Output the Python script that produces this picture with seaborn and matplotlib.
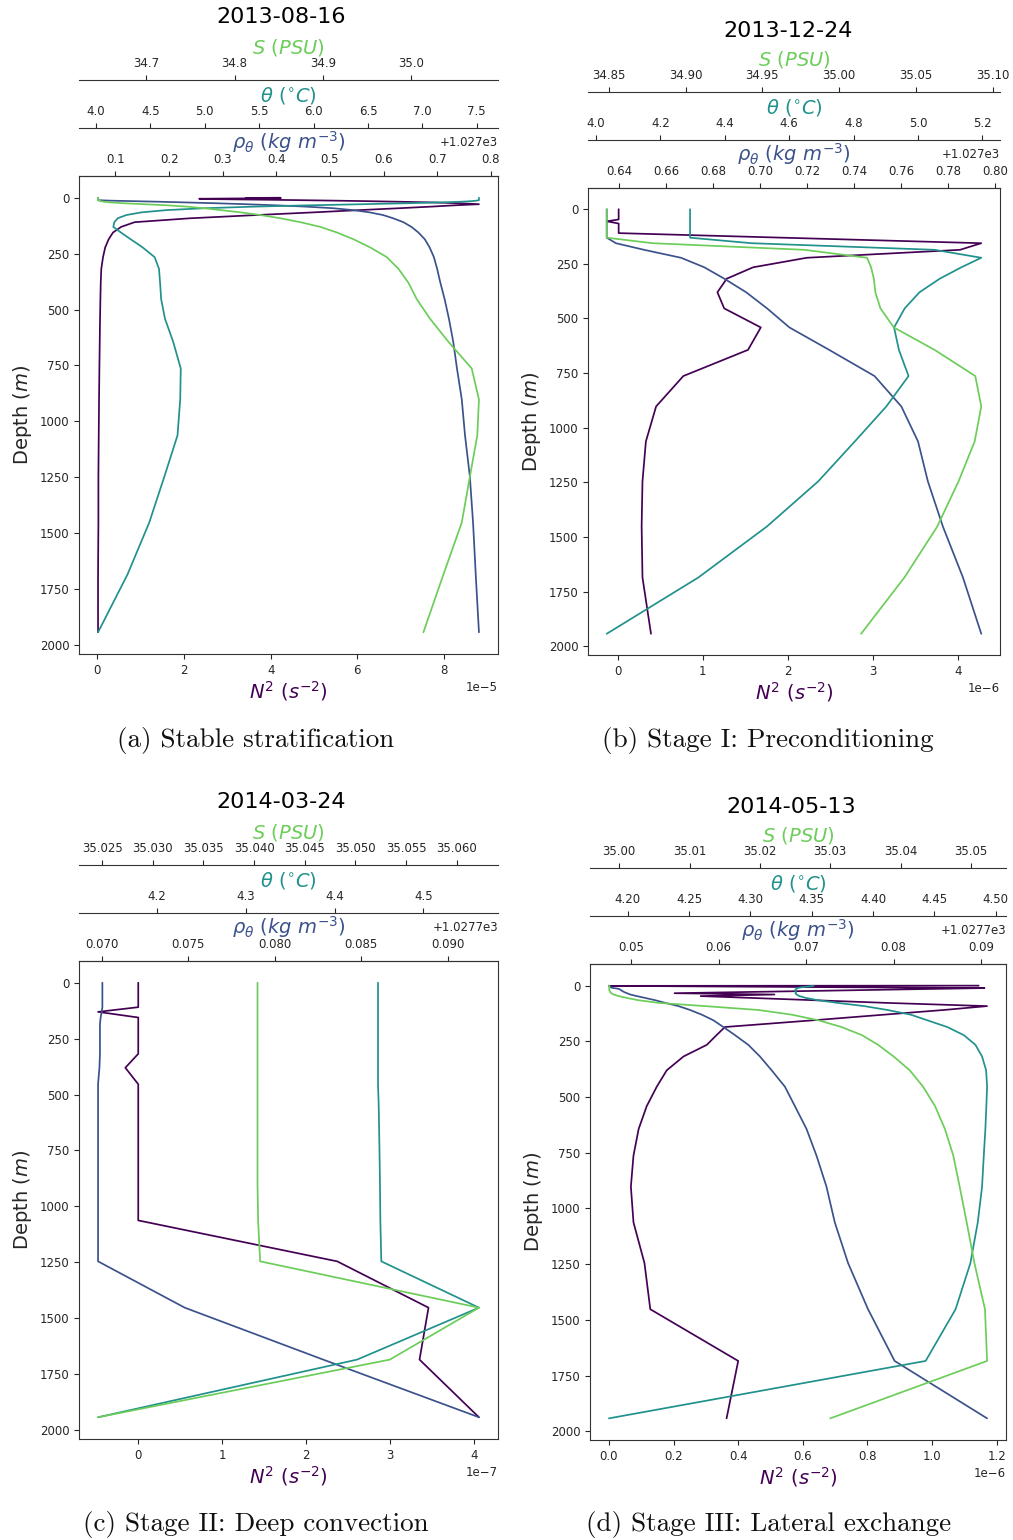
import numpy as np
import matplotlib
matplotlib.use("Agg")
import matplotlib.pyplot as plt
from matplotlib.ticker import ScalarFormatter
import seaborn as sns

# ---------------- data ----------------
depth = [0.494, 1.541, 2.646, 3.819, 5.078, 6.441, 7.930, 9.573, 11.405, 13.467,
         15.810, 18.496, 21.599, 25.211, 29.445, 34.434, 40.344, 47.374, 55.764, 65.807,
         77.854, 92.326, 109.729, 130.666, 155.851, 186.126, 222.475, 266.040, 318.127, 380.213,
         453.938, 541.089, 643.567, 763.333, 902.339, 1062.440, 1245.291, 1452.251, 1684.284, 1941.893]

dates = ["2013-08-16", "2013-12-24", "2014-03-24", "2014-05-13"]
captions = ["(a) Stable stratification", "(b) Stage I: Preconditioning",
            "(c) Stage II: Deep convection", "(d) Stage III: Lateral exchange"]

# N^2 values (units given by scale lists)
n2_a = [4.23, 3.43, 4.23, 3.16, 2.35, 2.55, 3.16, 3.93, 4.69, 5.46,
        6.23, 7.00, 7.76, 8.38, 8.81, 8.24, 7.70, 6.97, 6.05, 5.00,
        3.67, 2.14, 0.86, 0.55, 0.36, 0.26, 0.18, 0.13, 0.09, 0.077,
        0.069, 0.061, 0.054, 0.046, 0.038, 0.031, 0.023, 0.023, 0.015, 0.015]
n2_b = [0.01, 0.01, 0.01, 0.01, 0.01, 0.01, 0.01, 0.01, 0.01, 0.01,
        0.01, 0.01, 0.01, 0.01, 0.01, 0.01, 0.01, 0.01, -0.13, 0.01,
        0.01, 0.01, 0.01, 1.94, 4.27, 4.02, 2.22, 1.59, 1.28, 1.17,
        1.25, 1.68, 1.53, 0.77, 0.45, 0.33, 0.29, 0.28, 0.29, 0.39]
n2_c = [0, 0, 0, 0, 0, 0, 0, 0, 0, 0,
        0, 0, 0, 0, 0, 0, 0, 0, 0, 0,
        0, 0, 0, -0.479, 0, 0, 0, 0, 0, -0.154,
        0, 0, 0, 0, 0, 0, 2.37, 3.458, 3.351, 4.059]
n2_d = [1.144, 0.0, 0.141, 0.265, 0.423, 0.581, 0.758, 0.951, 1.162, 1.075,
        0.975, 0.864, 0.738, 0.589, 0.409, 0.203, 0.512, 0.284, 0.443, 0.632,
        0.858, 1.170, 1.036, 0.852, 0.633, 0.359, 0.333, 0.303, 0.231, 0.179,
        0.148, 0.117, 0.092, 0.076, 0.068, 0.076, 0.110, 0.128, 0.400, 0.364]
n2_scale = [1e-5, 1e-6, 1e-7, 1e-6]

# potential density (kg m^-3)
rho_a = [1027.0675] * 9 + [
    1027.089, 1027.133, 1027.183, 1027.232, 1027.288, 1027.344, 1027.400, 1027.456, 1027.506, 1027.543,
    1027.574, 1027.599, 1027.618, 1027.637, 1027.652, 1027.665, 1027.677, 1027.686, 1027.694, 1027.700,
    1027.706, 1027.714, 1027.722, 1027.730, 1027.737, 1027.746, 1027.752, 1027.761, 1027.767, 1027.772,
    1027.778]
rho_b = [1027.6347] * 24 + [
    1027.6386, 1027.6506, 1027.6663, 1027.6762, 1027.6847, 1027.6940, 1027.7029, 1027.7124,
    1027.7293, 1027.7486, 1027.7600, 1027.7671, 1027.7713, 1027.7777, 1027.7862, 1027.7940]
rho_c = [1027.77004] * 23 + [1027.77000, 1027.76994, 1027.76990, 1027.76990, 1027.76990,
                             1027.76990, 1027.76987] + [1027.76979] * 7 + [1027.7748, 1027.7828, 1027.7918]
rho_d = [1027.74745, 1027.74749, 1027.74753, 1027.74757, 1027.74760, 1027.74764, 1027.74768, 1027.74772,
         1027.74798, 1027.74837, 1027.74863, 1027.74875, 1027.74886, 1027.74901, 1027.74920, 1027.74951,
         1027.74989, 1027.75065, 1027.75160, 1027.75274, 1027.75388, 1027.75540, 1027.75673, 1027.75806,
         1027.75939, 1027.76053, 1027.76186, 1027.76338, 1027.76471, 1027.76605, 1027.76757, 1027.76871,
         1027.77004, 1027.77118, 1027.77232, 1027.77327, 1027.77479, 1027.77707, 1027.78011, 1027.79068]
rho_offsets = [1027.0, 1027.0, 1027.7, 1027.7]

# potential temperature (deg C)
theta_a = [7.52] * 9 + [
    7.50, 7.45, 7.35, 7.15, 6.85, 6.45, 5.95, 5.45, 5.00, 4.65,
    4.42, 4.28, 4.20, 4.17, 4.16, 4.23, 4.32, 4.43, 4.54, 4.58,
    4.59, 4.60, 4.635, 4.71, 4.78, 4.775, 4.75, 4.63, 4.49, 4.29, 4.02]
theta_b = [4.292] * 24 + [
    4.483, 5.052, 5.197, 5.135, 5.068, 5.005, 4.959, 4.926,
    4.941, 4.971, 4.902, 4.804, 4.690, 4.530, 4.318, 4.033]
theta_c = [4.4488] * 31 + [4.4495, 4.4500, 4.4505, 4.4510, 4.4514, 4.4525, 4.5625, 4.4252, 4.1334]
theta_d = [4.3516, 4.3508, 4.3495, 4.3481, 4.3454, 4.3435, 4.3413, 4.3400, 4.3386, 4.3378,
           4.3373, 4.3367, 4.3365, 4.3365, 4.3373, 4.3367, 4.3376, 4.3400, 4.3454, 4.3549,
           4.3711, 4.3928, 4.4118, 4.4307, 4.4442, 4.4605, 4.4740, 4.4835, 4.4889, 4.4922,
           4.4930, 4.4924, 4.4916, 4.4903, 4.4889, 4.4854, 4.4794, 4.4673, 4.4429, 4.1846]

# salinity (PSU)
sal_a = [34.6453] * 9 + [
    34.6464, 34.6484, 34.6521, 34.6597, 34.6747, 34.6973, 34.7237, 34.7463, 34.7651, 34.7840,
    34.8066, 34.8292, 34.8518, 34.8744, 34.8969, 34.9158, 34.9346, 34.9534, 34.9723, 34.9855,
    34.9967, 35.0062, 35.0212, 35.0419, 35.0684, 35.0766, 35.0747, 35.0664, 35.0571, 35.0363,
    35.0137]
sal_b = [34.8487] * 24 + [
    34.8785, 34.9773, 35.0181, 35.0207, 35.0225, 35.0235, 35.0268, 35.0355,
    35.0620, 35.0885, 35.0924, 35.0881, 35.0776, 35.0637, 35.0424, 35.0142]
sal_c = [35.04034] * 35 + [35.0404, 35.0406, 35.0622, 35.0534, 35.0246]
sal_d = [34.99853] + [34.99858] * 12 + [
    34.99867, 34.99872, 34.99886, 34.99920, 34.99990, 35.0011, 35.0027, 35.0056, 35.0122,
    35.0198, 35.0245, 35.0283, 35.0316, 35.0345, 35.0368, 35.0390, 35.0413, 35.0432,
    35.0449, 35.0463, 35.0475, 35.0484, 35.0494, 35.0505, 35.0520, 35.0523, 35.0300]

# ---------------- style ----------------
sns.set_style("ticks")
plt.rcParams["font.family"] = ["DejaVu Sans"]
plt.rcParams["xtick.labelsize"] = 8.5
plt.rcParams["ytick.labelsize"] = 8.5
plt.rcParams["axes.edgecolor"] = "#333333"

C_N2, C_RHO, C_TH, C_S = "#440154", "#3b528b", "#21918c", "#6ccd5a"

W, H = 1013, 1540
fig = plt.figure(figsize=(W / 100, H / 100), dpi=100)


def frac(l, t, r, b):
    return [l / W, 1 - b / H, (r - l) / W, (b - t) / H]


rects = [frac(79, 176, 498, 654), frac(588, 188, 1000, 655),
         frac(79, 961, 498, 1439), frac(590, 964, 1006, 1440)]
title_pos = [(281, 17), (788, 31), (281, 802), (791, 807)]
cap_pos = [(256, 740), (768, 740), (256, 1525), (769, 1525)]

panels = [(n2_a, rho_a, theta_a, sal_a), (n2_b, rho_b, theta_b, sal_b),
          (n2_c, rho_c, theta_c, sal_c), (n2_d, rho_d, theta_d, sal_d)]

LW = 1.25
for i, (n2, rho, th, sal) in enumerate(panels):
    ax = fig.add_axes(rects[i])
    ax_r = ax.twiny()
    ax_t = ax.twiny()
    ax_s = ax.twiny()
    n2v = np.array(n2) * n2_scale[i]
    for a, vals, c in [(ax, n2v, C_N2), (ax_r, rho, C_RHO), (ax_t, th, C_TH), (ax_s, sal, C_S)]:
        sns.lineplot(x=np.asarray(vals, dtype=float), y=np.asarray(depth), sort=False,
                     estimator=None, orient="y", ax=a, color=c, lw=LW)

    for a, off in [(ax_t, 34.6), (ax_s, 69.1)]:
        a.spines["top"].set_position(("outward", off))
        for s in ["left", "right", "bottom"]:
            a.spines[s].set_visible(False)
    for a in (ax_r,):
        for s in ["left", "right", "bottom"]:
            a.spines[s].set_visible(False)

    ax_r.xaxis.set_major_formatter(ScalarFormatter(useOffset=rho_offsets[i]))
    ax_t.xaxis.set_major_formatter(ScalarFormatter(useOffset=False))
    ax_s.xaxis.set_major_formatter(ScalarFormatter(useOffset=False))

    ax.set_xlabel(r"$N^2\ (s^{-2})$", color=C_N2, fontsize=14, labelpad=2)
    ax.set_ylabel(r"Depth $(m)$", fontsize=14)
    ax_r.set_xlabel(r"$\rho_\theta\ (kg\ m^{-3})$", color=C_RHO, fontsize=14, labelpad=3)
    ax_t.set_xlabel(r"$\theta\ (^{\circ}C)$", color=C_TH, fontsize=14, labelpad=3)
    ax_s.set_xlabel(r"$S\ (PSU)$", color=C_S, fontsize=14, labelpad=3)

    lo, hi = ax.get_ylim()
    ax.set_ylim(max(lo, hi), min(lo, hi))

    fig.text(title_pos[i][0] / W, 1 - title_pos[i][1] / H, dates[i], ha="center", va="center",
             fontsize=16, color="black")
    fig.text(cap_pos[i][0] / W, 1 - cap_pos[i][1] / H, captions[i], ha="center", va="center",
             fontsize=19.5, family="cmr10", color="#111111")

fig.savefig("out.png", dpi=100)
